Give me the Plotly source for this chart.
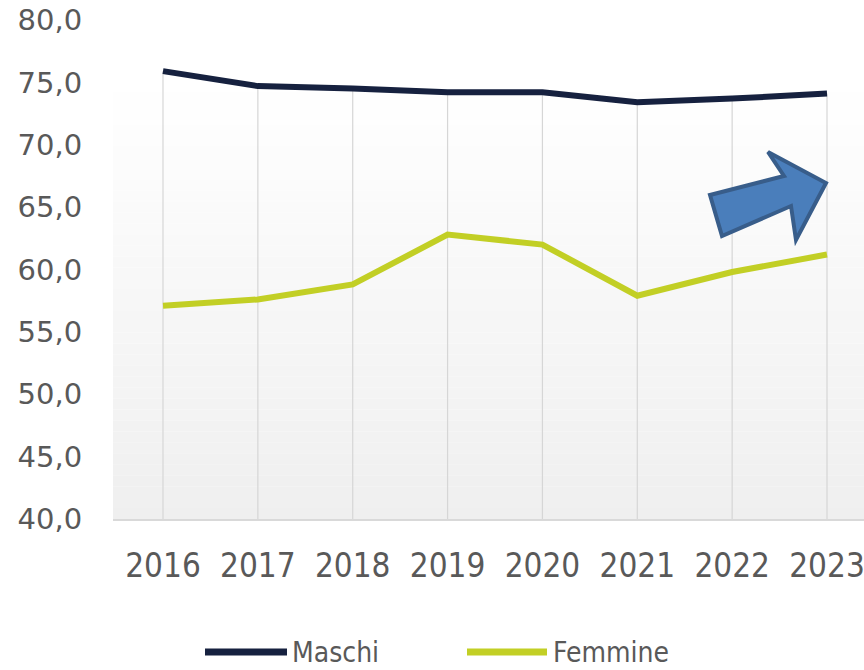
import plotly.graph_objects as go

years = [2016, 2017, 2018, 2019, 2020, 2021, 2022, 2023]
maschi = [75.9, 74.7, 74.5, 74.2, 74.2, 73.4, 73.7, 74.1]
femmine = [57.1, 57.6, 58.8, 62.8, 62.0, 57.9, 59.8, 61.2]
y_ticks = [40, 45, 50, 55, 60, 65, 70, 75, 80]
y_tick_labels = ["40,0", "45,0", "50,0", "55,0", "60,0", "65,0", "70,0", "75,0", "80,0"]
series_names = ["Maschi", "Femmine"]

W, H = 864, 670
ML, MR, MT, MB = 113, 0, 20, 151
PW, PH = W - ML - MR, H - MT - MB

def px(x):
    return (x - ML) / PW

def py(y):
    return (H - MB - y) / PH

NAVY = "#16213f"
LIME = "#c2cf25"
TXT = "#595959"
COND = "DejaVu Sans Condensed, Liberation Sans Narrow, DejaVu Sans"

fig = go.Figure()

# drop lines from axis to the upper series
dx, dy = [], []
for yr, v in zip(years, maschi):
    dx += [yr, yr, None]
    dy += [40, v, None]
fig.add_trace(go.Scatter(x=dx, y=dy, mode="lines", line=dict(color="#d6d6d6", width=1.2),
                         hoverinfo="skip", showlegend=False))

fig.add_trace(go.Scatter(x=years, y=maschi, mode="lines", name=series_names[0],
                         line=dict(color=NAVY, width=6), showlegend=False))
fig.add_trace(go.Scatter(x=years, y=femmine, mode="lines", name=series_names[1],
                         line=dict(color=LIME, width=6), showlegend=False))

shapes = []
# gradient background of plot area
top_px, bot_px = 81, H - MB
n = 40
for i in range(n):
    y0 = top_px + (bot_px - top_px) * i / n
    y1 = top_px + (bot_px - top_px) * (i + 1) / n
    t = (i + 0.5) / n
    c = int(round(255 - (255 - 239) * t))
    shapes.append(dict(type="rect", xref="paper", yref="paper", x0=0, x1=1,
                       y0=py(y1), y1=py(y0), fillcolor=f"rgb({c},{c},{c})",
                       line=dict(width=0), layer="below"))

# arrow decoration
arrow_px = [(710, 195), (722, 236), (791, 206), (796, 240), (826, 183), (768, 152), (784, 176)]
path = "M " + " L ".join(f"{px(a):.5f},{py(b):.5f}" for a, b in arrow_px) + " Z"
shapes.append(dict(type="path", xref="paper", yref="paper", path=path,
                   fillcolor="#4a7ebb", line=dict(color="#385d8a", width=4), layer="above"))

# manual legend
legend_y = 652
legend_items = [(series_names[0], NAVY, 205, 287, 290), (series_names[1], LIME, 467, 547, 551)]
annotations = []
for name, col, x0, x1, tx in legend_items:
    shapes.append(dict(type="line", xref="paper", yref="paper", x0=px(x0), x1=px(x1),
                       y0=py(legend_y), y1=py(legend_y), line=dict(color=col, width=7)))
    annotations.append(dict(text=name, xref="paper", yref="paper", x=px(tx), y=py(legend_y),
                            xanchor="left", yanchor="middle", showarrow=False,
                            font=dict(family=COND, size=28, color=TXT)))

fig.update_layout(
    width=W, height=H,
    margin=dict(l=ML, r=MR, t=MT, b=MB, pad=0),
    paper_bgcolor="white", plot_bgcolor="white",
    shapes=shapes, annotations=annotations,
    showlegend=False,
    xaxis=dict(range=[2015.473, 2023.39], tickmode="array", tickvals=years,
               ticktext=[str(y) for y in years], showgrid=False, zeroline=False,
               showline=True, linecolor="#d9d9d9", linewidth=2,
               ticks="outside", ticklen=16, tickcolor="rgba(0,0,0,0)",
               ticklabeloverflow="allow",
               tickfont=dict(family=COND, size=33, color=TXT)),
    yaxis=dict(range=[40, 80], tickmode="array", tickvals=y_ticks, ticktext=y_tick_labels,
               showgrid=False, zeroline=False, showline=False,
               ticks="outside", ticklen=24, tickcolor="rgba(0,0,0,0)",
               tickfont=dict(family="DejaVu Sans", size=29, color=TXT)),
)

fig.write_html("out.html", config={"displayModeBar": False},
               post_script="document.body.style.margin='0';document.body.style.overflow='hidden';")
